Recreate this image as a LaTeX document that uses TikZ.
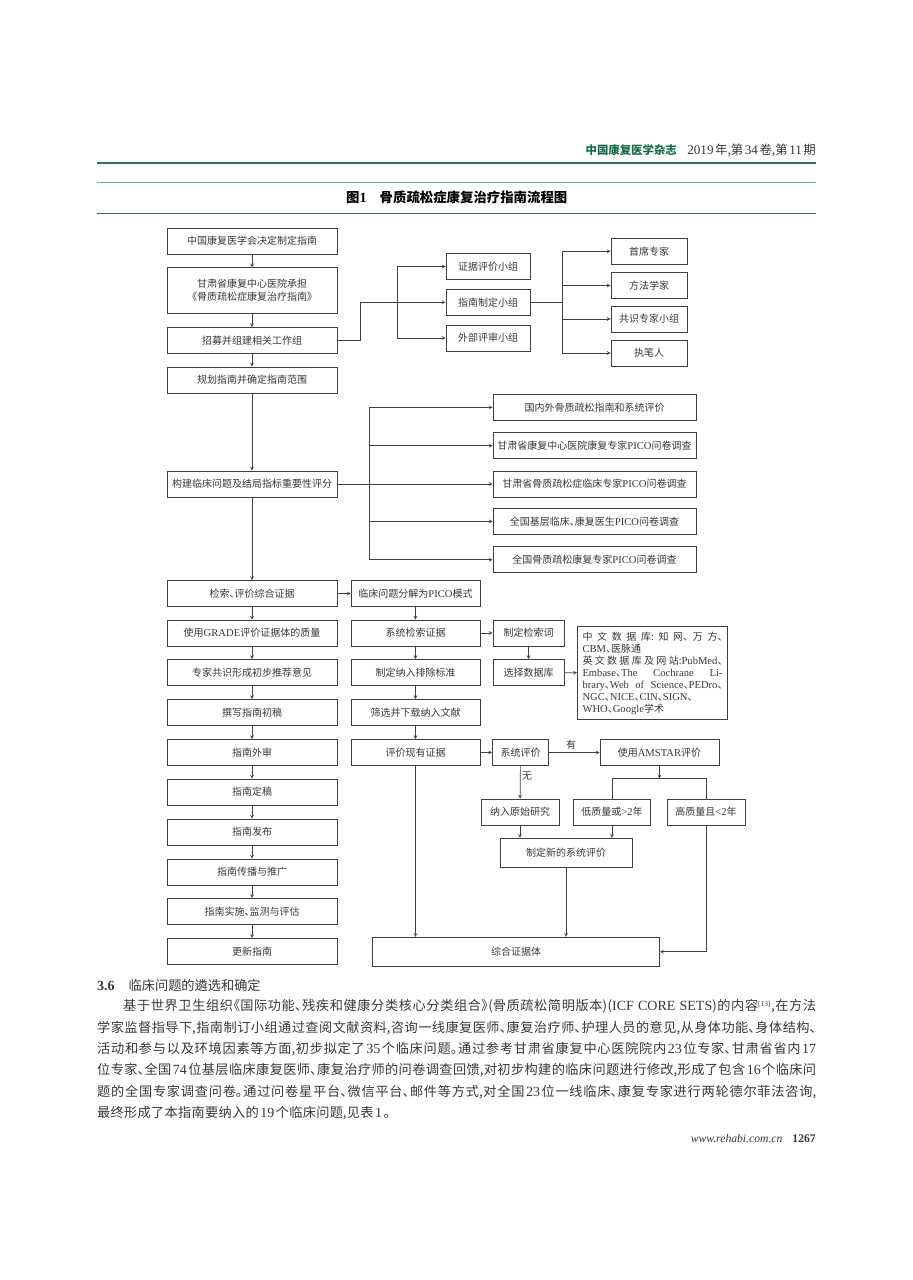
\documentclass[tikz,border=0pt]{standalone}
\usepackage{fontspec}
\usepackage{xcolor}
\setmainfont{Noto Sans CJK SC}[RawFeature={+halt}]
\newfontfamily\latinfont[Scale=1.06]{Liberation Serif}
\definecolor{boxgray}{gray}{0.25}
\definecolor{textgray}{gray}{0.22}
\definecolor{rulegreen}{RGB}{52,112,92}
\definecolor{ruleteal}{RGB}{120,165,150}
\definecolor{logogreen}{RGB}{22,110,70}
\XeTeXlinebreaklocale "zh"
\XeTeXlinebreakskip=0pt plus 1.5pt minus 0.4pt
\tolerance=9999
\hbadness=10000
\hfuzz=3pt
\newcommand{\lat}[1]{{\latinfont #1}}
\newcommand{\latsp}[1]{\hspace{1.5pt}{\latinfont #1}\hspace{1.5pt}}
\newcommand{\fillline}[1]{{\parfillskip=0pt\noindent #1\par}}

\begin{document}
\begin{tikzpicture}[
  x=1pt, y=-1pt,
  box/.style={draw=boxgray, line width=0.8pt, inner sep=0pt, minimum height=26pt, align=center, text=textgray, font=\fontsize{10}{13}\selectfont},
  lbox/.style={box, minimum width=170pt},
  mbox/.style={box, minimum width=129pt},
  gbox/.style={box, minimum width=84pt},
  rbox/.style={box, minimum width=76pt},
  sbox/.style={box, minimum width=203pt},
  arr/.style={->, >=stealth, line width=0.7pt, draw=boxgray},
  ln/.style={line width=0.7pt, draw=boxgray},
  lbl/.style={inner sep=0pt, text=textgray, font=\fontsize{10}{13}\selectfont},
  body/.style={anchor=west, inner sep=0pt, align=justify, text=textgray, font=\fontsize{13.2}{15}\selectfont}
]
  \useasboundingbox (0,0) rectangle (913,1280);

  % page head
  \node[inner sep=0pt, anchor=east, text=logogreen, font=\fontsize{11.4}{13}\selectfont\bfseries] (logo) at (677,150) {中国康复医学杂志};
  \node[inner sep=0pt, anchor=east, text=textgray, font=\fontsize{12.4}{13}\selectfont] (issue) at (816,150) {\latsp{2019}年,第\latsp{34}卷,第\latsp{11}期};
  \draw[rulegreen, line width=2pt] (97,163.3) -- (816,163.3);
  \draw[ruleteal, line width=1pt] (97,182) -- (816,182);
  \draw[rulegreen, line width=0.8pt] (97,213.3) -- (816,213.3);
  \node[inner sep=0pt, anchor=west, text=black, font=\fontsize{13.4}{15}\selectfont\bfseries] (fig) at (346,197) {图\lat{\bfseries 1}\hspace{13pt}骨质疏松症康复治疗指南流程图};

  % left column
  \node[lbox] (decide) at (252,241)   {中国康复医学会决定制定指南};
  \node[lbox, minimum height=45.5pt] (host) at (252,290.5) {甘肃省康复中心医院承担\\《骨质疏松症康复治疗指南》};
  \node[lbox] (recruit) at (252,340.5) {招募并组建相关工作组};
  \node[lbox] (scope)   at (252,380)   {规划指南并确定指南范围};
  \node[lbox] (build)   at (252,484)   {构建临床问题及结局指标重要性评分};
  \node[lbox] (search)  at (252,593.5) {检索、评价综合证据};
  \node[lbox] (grade)   at (252,633)   {使用\lat{GRADE}评价证据体的质量};
  \node[lbox] (expert)  at (252,672.5) {专家共识形成初步推荐意见};
  \node[lbox] (draft)   at (252,712.5) {撰写指南初稿};
  \node[lbox] (review)  at (252,752.5) {指南外审};
  \node[lbox] (final)   at (252,792)   {指南定稿};
  \node[lbox] (publish) at (252,832)   {指南发布};
  \node[lbox] (spread)  at (252,872)   {指南传播与推广};
  \node[lbox] (monitor) at (252,911.5) {指南实施、监测与评估};
  \node[lbox] (update)  at (252,951.5) {更新指南};

  % working groups
  \node[gbox] (evi)  at (488,266.5) {证据评价小组};
  \node[gbox] (plan) at (488,302.3) {指南制定小组};
  \node[gbox] (ext)  at (488,338)   {外部评审小组};
  \node[rbox] (chief)  at (649,251.3) {首席专家};
  \node[rbox] (method) at (649,285.5) {方法学家};
  \node[rbox] (panel)  at (649,319)   {共识专家小组};
  \node[rbox] (writer) at (649,353)   {执笔人};

  % surveys
  \node[sbox] (intl) at (594.5,407.3) {国内外骨质疏松指南和系统评价};
  \node[sbox] (gs1)  at (594.5,445.7) {甘肃省康复中心医院康复专家\lat{PICO}问卷调查};
  \node[sbox] (gs2)  at (594.5,484)   {甘肃省骨质疏松症临床专家\lat{PICO}问卷调查};
  \node[sbox] (nat1) at (594.5,521.5) {全国基层临床、康复医生\lat{PICO}问卷调查};
  \node[sbox] (nat2) at (594.5,559.7) {全国骨质疏松康复专家\lat{PICO}问卷调查};

  % middle column
  \node[mbox] (pico)   at (415.5,593.5) {临床问题分解为\lat{PICO}模式};
  \node[mbox] (sys)    at (415.5,633)   {系统检索证据};
  \node[mbox] (crit)   at (415.5,672.5) {制定纳入排除标准};
  \node[mbox] (screen) at (415.5,712.5) {筛选并下载纳入文献};
  \node[mbox] (eval)   at (415.5,752.5) {评价现有证据};

  \node[box, minimum width=71pt] (terms) at (528.5,633)   {制定检索词};
  \node[box, minimum width=71pt] (dbsel) at (528.5,672.5) {选择数据库};
  \node[box, line width=1pt, inner sep=5pt, text width=140pt, align=justify] (dblist) at (652.5,673) {\baselineskip=12pt
    \fillline{中文数据库:知网、万方、}
    {\noindent\lat{CBM}、医脉通\par}
    \fillline{英文数据库及网站:\lat{PubMed}、}
    \fillline{\lat{Embase}、\lat{The Cochrane Li-}}
    \fillline{\lat{brary}、\lat{Web of Science}、\lat{PEDro}、}
    \fillline{\lat{NGC}、\lat{NICE}、\lat{CIN}、\lat{SIGN}、}
    {\noindent\lat{WHO}、\lat{Google}学术\par}};

  % appraisal
  \node[box, minimum width=56pt] (srv) at (520.5,752.5) {系统评价};
  \node[box, minimum width=119pt] (amstar) at (659.5,752.5) {使用\lat{AMSTAR}评价};
  \node[box, minimum width=78pt] (incl) at (520,812)  {纳入原始研究};
  \node[box, minimum width=77pt] (lowq) at (612,812)  {低质量或\lat{>2}年};
  \node[box, minimum width=78pt] (highq) at (706,812) {高质量且\lat{<2}年};
  \node[box, minimum width=132pt, minimum height=29pt] (newsr) at (566,852.8) {制定新的系统评价};
  \node[box, minimum width=287pt, minimum height=29pt] (syn) at (516,951.8) {综合证据体};
  \node[lbl] (yes) at (571,745) {有};
  \node[lbl] (no)  at (527,776) {无};

  \coordinate (jA) at (360,302.3);
  \coordinate (jB) at (397,302.3);
  \coordinate (jC) at (562,302.3);
  \coordinate (jD) at (369,484);
  \coordinate (jE) at (659.5,778.5);

  % left column arrows
  \draw[arr] (decide) -- (host);
  \draw[arr] (host) -- (recruit);
  \draw[arr] (recruit) -- (scope);
  \draw[arr] (scope) -- (build);
  \draw[arr] (build) -- (search);
  \draw[arr] (search) -- (grade);
  \draw[arr] (grade) -- (expert);
  \draw[arr] (expert) -- (draft);
  \draw[arr] (draft) -- (review);
  \draw[arr] (review) -- (final);
  \draw[arr] (final) -- (publish);
  \draw[arr] (publish) -- (spread);
  \draw[arr] (spread) -- (monitor);
  \draw[arr] (monitor) -- (update);

  % groups
  \draw[ln] (recruit.east) -| (jA);
  \draw[arr] (jA) -- (plan.west);
  \draw[arr] (jB) |- (evi);
  \draw[arr] (jB) |- (ext);
  \draw[ln] (plan) -- (jC);
  \draw[arr] (jC) |- (chief);
  \draw[arr] (jC) |- (method);
  \draw[arr] (jC) |- (panel);
  \draw[arr] (jC) |- (writer);

  % surveys
  \draw[arr] (build) -- (gs2);
  \draw[arr] (jD) |- (intl);
  \draw[arr] (jD) |- (gs1);
  \draw[arr] (jD) |- (nat1);
  \draw[arr] (jD) |- (nat2);

  % evidence
  \draw[arr] (search) -- (pico);
  \draw[arr] (pico) -- (sys);
  \draw[arr] (sys) -- (crit);
  \draw[arr] (crit) -- (screen);
  \draw[arr] (screen) -- (eval);
  \draw[arr] (sys) -- (terms);
  \draw[arr] (terms) -- (dbsel);
  \draw[arr] (dbsel) -- (dblist);
  \draw[arr] (eval) -- (srv);
  \draw[arr] (srv) -- (amstar);
  \draw[arr] (srv) -- (incl);
  \draw[arr] (amstar) -- (jE);
  \draw[ln] (jE) -| (lowq);
  \draw[ln] (jE) -| (highq);
  \draw[arr] (incl.south) -- (incl.south |- newsr.north);
  \draw[arr] (lowq.south) -- (lowq.south |- newsr.north);
  \draw[arr] (eval.south) -- (eval.south |- syn.north);
  \draw[arr] (newsr) -- (newsr |- syn.north);
  \draw[arr] (highq) |- (syn);

  % text below the figure
  \node[inner sep=0pt, anchor=west, text=textgray, font=\fontsize{13.2}{15}\selectfont] (sec) at (97,985) {\lat{\bfseries 3.6}\hspace{14pt}临床问题的遴选和确定};
  \node[body, text width=693pt] (l1) at (123,1006.5) {\fillline{基于世界卫生组织《国际功能、残疾和健康分类核心分类组合》(骨质疏松简明版本)(\lat{ICF CORE SETS})的内容$^{\mbox{\fontsize{7}{8}\selectfont\lat{[13]}}}$,在方法}};
  \node[body, text width=719pt] (l2) at (97,1028) {\fillline{学家监督指导下,指南制订小组通过查阅文献资料,咨询一线康复医师、康复治疗师、护理人员的意见,从身体功能、身体结构、}};
  \node[body, text width=719pt] (l3) at (97,1049.5) {\fillline{活动和参与以及环境因素等方面,初步拟定了\latsp{35}个临床问题。通过参考甘肃省康复中心医院院内\latsp{23}位专家、甘肃省省内\latsp{17}}};
  \node[body, text width=719pt] (l4) at (97,1070.5) {\fillline{位专家、全国\latsp{74}位基层临床康复医师、康复治疗师的问卷调查回馈,对初步构建的临床问题进行修改,形成了包含\latsp{16}个临床问}};
  \node[body, text width=719pt] (l5) at (97,1092) {\fillline{题的全国专家调查问卷。通过问卷星平台、微信平台、邮件等方式,对全国\latsp{23}位一线临床、康复专家进行两轮德尔菲法咨询,}};
  \node[body, text width=293pt] (l6) at (97,1113.5) {\fillline{最终形成了本指南要纳入的\latsp{19}个临床问题,见表\latsp{1}。}};
  \node[inner sep=0pt, anchor=east, text=textgray, font=\fontsize{11}{13}\selectfont] (foot) at (816,1139) {\lat{\itshape www.rehabi.com.cn}\hspace{10pt}\lat{\bfseries 1267}};
\end{tikzpicture}
\end{document}
